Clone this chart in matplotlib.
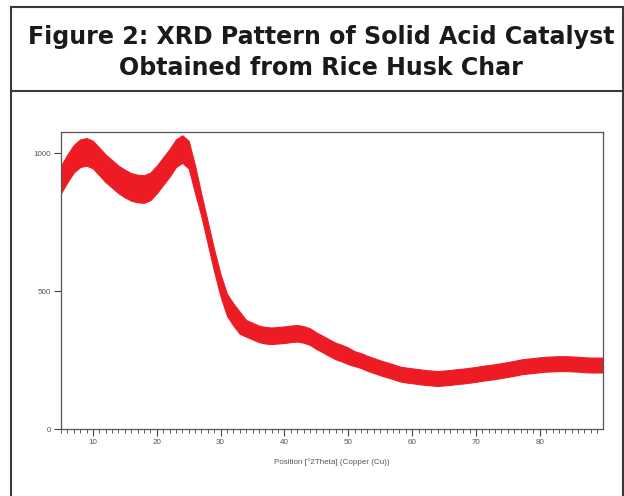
import matplotlib.pyplot as plt
from matplotlib.lines import Line2D
from matplotlib.ticker import MultipleLocator

# XRD pattern: 2theta and centre of the noisy trace
two_theta = list(range(5, 91))
counts = [905, 945, 980, 1000, 1005, 995, 970, 945, 925, 905,
          890, 878, 872, 870, 880, 905, 935, 965, 1000, 1015,
          995, 905, 810, 710, 610, 520, 450, 415, 385, 365,
          355, 345, 340, 338, 340, 342, 345, 347, 343, 335,
          320, 308, 295, 283, 275, 265, 255, 248, 238, 230,
          222, 215, 208, 200, 196, 193, 190, 187, 185, 183,
          185, 187, 190, 192, 195, 198, 202, 205, 208, 212,
          216, 220, 225, 228, 230, 233, 235, 236, 237, 237,
          236, 235, 233, 232, 232, 232]
# half spread of the noise band
spread = [50] * 22 + [40] * 7 + [30] * 17 + [27] * 40

upper = [c + s for c, s in zip(counts, spread)]
lower = [c - s for c, s in zip(counts, spread)]

fig = plt.figure(figsize=(6.24, 4.96), dpi=100)

# frame around the figure and title box
W, H = 624.0, 496.0
edge = '#3a3a3a'
fig.add_artist(Line2D([11 / W, 11 / W], [0, 1 - 7 / H], color=edge, lw=1.5))
fig.add_artist(Line2D([623 / W, 623 / W], [0, 1 - 7 / H], color=edge, lw=1.5))
fig.add_artist(Line2D([11 / W, 623 / W], [1 - 7 / H, 1 - 7 / H], color=edge, lw=1.5))
fig.add_artist(Line2D([11 / W, 623 / W], [1 - 91 / H, 1 - 91 / H], color=edge, lw=1.5))

fig.text(321 / W, 1 - 37 / H, 'Figure 2: XRD Pattern of Solid Acid Catalyst',
         ha='center', va='center', fontsize=17.1, fontweight='bold', color='#1a1a1a')
fig.text(321 / W, 1 - 68 / H, 'Obtained from Rice Husk Char',
         ha='center', va='center', fontsize=17.1, fontweight='bold', color='#1a1a1a')

ax = fig.add_axes([61 / W, 1 - 429 / H, 542 / W, 297 / H])
ax.fill_between(two_theta, lower, upper, color='#ED1C24', lw=0.8, edgecolor='#ED1C24')

ax.set_xlim(5, 89.9)
ax.set_ylim(0, 1077)
ax.set_yticks([0, 500, 1000])
ax.xaxis.set_major_locator(MultipleLocator(10))
ax.xaxis.set_minor_locator(MultipleLocator(1))
ax.tick_params(axis='both', which='major', length=5, width=0.8, color='#444444',
               labelsize=5.8, labelcolor='#555555', pad=2)
ax.tick_params(axis='x', which='minor', length=3, width=0.6, color='#444444')
for lbl in ax.get_xticklabels() + ax.get_yticklabels():
    lbl.set_family('Liberation Sans')
for sp in ax.spines.values():
    sp.set_color('#555555')
    sp.set_linewidth(0.9)

ax.set_xlabel('Position [°2Theta] (Copper (Cu))', fontsize=5.8, color='#555555',
              labelpad=9, family='Liberation Sans')

plt.savefig('out.png', dpi=100)
